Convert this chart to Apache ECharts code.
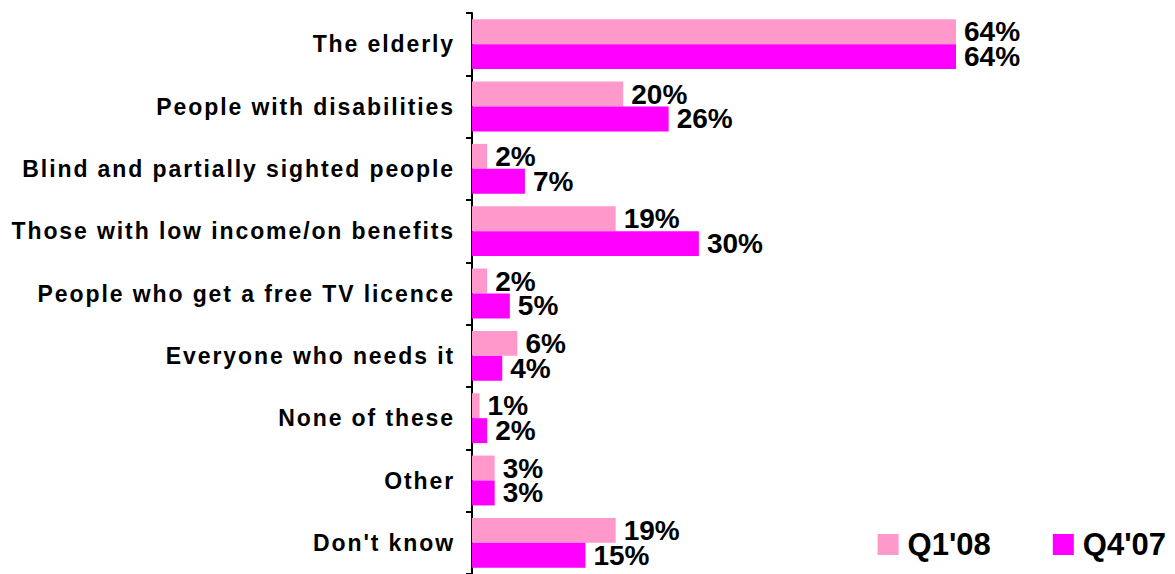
<!DOCTYPE html>
<html>
<head>
<meta charset="utf-8">
<script src="https://cdn.jsdelivr.net/npm/echarts@6/dist/echarts.min.js"></script>
<style>
  html, body { margin: 0; padding: 0; background: #fff; }
  #chart { width: 1175px; height: 574px; }
  /* category names are set with slightly widened tracking */
  #chart svg text[style*="23px"] { letter-spacing: 1.9px; }
</style>
</head>
<body>
<div id="chart"></div>
<script>
// Who should get help with switching over - share of respondents
const categories = [
  'The elderly',
  'People with disabilities',
  'Blind and partially sighted people',
  'Those with low income/on benefits',
  'People who get a free TV licence',
  'Everyone who needs it',
  'None of these',
  'Other',
  "Don't know"
];
const seriesNames = ["Q1'08", "Q4'07"];
const q108 = [64, 20, 2, 19, 2, 6, 1, 3, 19];
const q407 = [64, 26, 7, 30, 5, 4, 2, 3, 15];

const chart = echarts.init(document.getElementById('chart'), null, { renderer: 'svg' });

const valueLabel = {
  show: true,
  position: 'right',
  distance: 8,
  formatter: p => p.value + '%',
  color: '#000',
  fontFamily: 'Liberation Sans, Arial, sans-serif',
  fontWeight: 'bold',
  fontSize: 28
};

chart.setOption({
  animation: false,
  backgroundColor: '#ffffff',
  grid: { left: 472, top: 13, width: 605, height: 564, containLabel: false },
  xAxis: {
    type: 'value',
    min: 0,
    max: 80,
    show: false
  },
  yAxis: {
    type: 'category',
    data: categories,
    inverse: true,
    axisLine: { show: true, lineStyle: { color: '#000', width: 2 } },
    axisTick: { show: true, length: 6, lineStyle: { color: '#000', width: 2 } },
    axisLabel: {
      color: '#000',
      fontFamily: 'Liberation Sans, Arial, sans-serif',
      fontWeight: 'bold',
      fontSize: 23,
      margin: 17
    },
    splitLine: { show: false }
  },
  legend: {
    right: 4,
    top: 524,
    itemWidth: 21,
    itemHeight: 21,
    itemGap: 62,
    icon: 'rect',
    textStyle: {
      color: '#000',
      fontFamily: 'Liberation Sans, Arial, sans-serif',
      fontWeight: 'bold',
      fontSize: 31,
      padding: [0, 0, 0, 4]
    },
    data: seriesNames
  },
  series: [
    {
      name: seriesNames[0],
      type: 'bar',
      data: q108,
      barGap: '0%',
      barCategoryGap: '20%',
      itemStyle: { color: '#FF99CC' },
      label: valueLabel
    },
    {
      name: seriesNames[1],
      type: 'bar',
      data: q407,
      barGap: '0%',
      barCategoryGap: '20%',
      itemStyle: { color: '#FF00FF' },
      label: valueLabel
    }
  ]
});
</script>
</body>
</html>
